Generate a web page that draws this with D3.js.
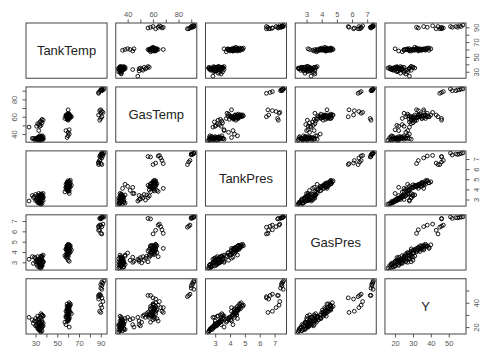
<!DOCTYPE html>
<html>
<head>
<meta charset="utf-8">
<script src="https://cdn.jsdelivr.net/npm/d3@7"></script>
<style>
  body { margin: 0; background: #fff; }
  svg { display: block; }
</style>
</head>
<body>
<script>
// sniffer-style data
const varNames = ['TankTemp', 'GasTemp', 'TankPres', 'GasPres', 'Y'];

const tankTemp = [
  33, 31, 33, 35, 36, 35, 34, 37, 32, 30, 29, 28, 34, 36, 35, 33, 32, 34, 36, 37, 35, 33, 31, 34, 35, 36, 34, 32, 37, 33,
  30, 36, 34, 27, 35,
  24, 33, 34, 35, 33, 32, 36, 34, 35, 37, 36, 31,
  59, 60, 61, 60, 58, 61,
  60, 59, 60, 61, 60, 59, 61, 60, 58, 60, 61, 59, 60, 62, 60, 59, 61, 60, 59, 60,
  61, 60, 58, 62, 60, 59, 61, 60, 57, 60, 61, 59, 60, 62, 60, 59, 61, 60, 63, 58,
  93, 91, 92, 90, 91, 90, 89, 88, 88, 91,
  90, 89, 91, 90, 92, 88, 90, 89, 91
];
const gasTemp = [
  35, 34, 36, 35, 34, 33, 34, 35, 36, 35, 34, 35, 37, 36, 37, 33, 34, 35, 38, 37, 34, 34, 35, 36, 35, 35, 33, 35, 34, 37,
  33, 36, 38, 35, 36,
  48, 44, 49, 50, 51, 52, 53, 54, 55, 56, 57, 49,
  36, 38, 40, 42, 44, 45,
  60, 60, 61, 59, 58, 62, 60, 59, 61, 62, 61, 58, 63, 60, 57, 59, 62, 60, 61, 64,
  58, 56, 60, 61, 59, 62, 60, 61, 58, 60, 63, 57, 62, 59, 68, 60, 61, 58, 60, 62,
  92, 92, 91, 91, 90, 90, 89, 88, 87, 92,
  68, 67, 66, 64, 65, 62, 58, 56, 60
];
const tankPres = [
  3.30, 3.10, 3.20, 2.80, 2.60, 2.55, 2.70, 2.90, 3.40, 3.50, 3.30, 3.20, 3.00, 3.10, 2.75, 2.65, 2.90, 3.35, 3.45, 3.25,
  3.05, 2.85, 3.00, 2.60, 3.55, 2.95, 3.15, 2.70, 3.60, 2.80,
  2.90, 3.20, 2.65, 3.40, 3.00,
  2.85, 3.60, 3.40, 3.05, 3.30, 3.15, 3.50, 2.95, 3.45, 3.20, 3.35, 3.00,
  4.10, 4.50, 4.30, 3.90, 4.20, 3.60,
  4.50, 4.40, 4.60, 4.30, 4.20, 4.70, 4.80, 4.10, 4.00, 4.35, 4.45, 4.55, 3.90, 4.65, 4.25, 4.15, 4.75, 4.05, 4.30, 3.80,
  4.50, 4.40, 4.20, 4.90, 4.60, 4.35, 4.10, 4.70, 3.75, 4.45, 4.55, 3.95, 4.85, 4.25, 4.10, 4.65, 3.85, 4.30, 4.40, 4.50,
  7.60, 7.55, 7.50, 7.45, 7.50, 7.40, 6.85, 6.70, 6.45, 7.58,
  6.55, 6.85, 7.10, 7.30, 7.35, 6.60, 7.20, 7.25, 6.45
];
const gasPres = [
  3.25, 2.80, 3.30, 2.65, 2.70, 2.45, 2.50, 3.10, 3.05, 3.40, 3.50, 2.90, 3.15, 2.85, 2.55, 2.75, 3.05, 3.10, 3.60, 3.00,
  2.70, 2.95, 3.20, 2.50, 3.30, 2.65, 3.35, 2.60, 3.70, 2.90,
  3.05, 2.90, 2.80, 3.55, 3.20,
  3.30, 3.00, 3.10, 3.45, 2.95, 3.55, 3.20, 3.40, 3.60, 3.05, 3.50, 3.25,
  3.40, 3.70, 3.90, 3.20, 3.50, 3.10,
  4.30, 4.45, 4.25, 4.35, 3.95, 4.60, 4.55, 4.10, 3.75, 4.40, 4.20, 4.60, 3.95, 4.35, 4.25, 3.90, 4.70, 3.80, 4.05, 3.55,
  4.55, 4.10, 4.30, 4.60, 4.65, 4.15, 4.15, 4.50, 3.65, 4.15, 4.60, 3.70, 4.75, 4.00, 4.35, 4.45, 3.90, 4.40, 4.20, 4.25,
  7.40, 7.38, 7.35, 7.30, 7.32, 7.25, 6.60, 6.50, 6.40, 7.39,
  5.80, 6.15, 6.45, 6.60, 6.70, 6.10, 7.20, 7.25, 5.75
];
const yVals = [
  24, 22, 23, 20, 17, 16, 18, 21, 26, 27, 25, 23, 22, 21, 19, 18, 20, 24, 25, 23, 22, 19, 21, 17, 28, 20, 22, 19, 29, 18,
  21, 24, 18, 26, 23,
  28, 27, 22, 21, 24, 29, 30, 28, 31, 29, 30, 25,
  25, 27, 28, 26, 22, 20,
  34, 33, 35, 32, 30, 37, 38, 29, 28, 33, 36, 35, 27, 39, 31, 30, 40, 26, 34, 25,
  37, 32, 29, 38, 36, 31, 33, 35, 24, 30, 34, 28, 37, 32, 36, 39, 27, 35, 31, 33,
  58, 57, 56, 55, 54, 52, 47, 46, 45, 51,
  32, 33, 36, 38, 41, 43, 46, 46, 44
];

// axis ticks, and which of them R printed a label for
const tickValues = [[30, 40, 50, 60, 70, 80, 90], [40, 50, 60, 70, 80, 90], [3, 4, 5, 6, 7], [3, 4, 5, 6, 7], [20, 30, 40, 50]];
const hLabels = [[30, 50, 70, 90], [40, 60, 80], [3, 4, 5, 6, 7], [3, 4, 5, 6, 7], [20, 30, 40, 50]];
const vLabels = [[30, 50, 70, 90], [40, 60, 80], [3, 4, 5, 6, 7], [3, 4, 5, 6, 7], [20, 40]];

const columns = [tankTemp, gasTemp, tankPres, gasPres, yVals];

const width = 481;
const height = 350;
const plotLeft = 26;
const plotRight = 466;
const plotTop = 23;
const plotBottom = 334;
const gap = 8.7;
const n = varNames.length;
const pw = (plotRight - plotLeft - gap * (n - 1)) / n;
const ph = (plotBottom - plotTop - gap * (n - 1)) / n;
const font = '"Liberation Sans", Arial, Helvetica, sans-serif';

const svg = d3.select('body')
  .append('svg')
  .attr('width', width)
  .attr('height', height);

// R pads each range by 4% on both sides
const domains = columns.map((v) => {
  const [lo, hi] = d3.extent(v);
  const pad = (hi - lo) * 0.04;
  return [lo - pad, hi + pad];
});
const xs = domains.map((d, j) => d3.scaleLinear(d, [plotLeft + j * (pw + gap), plotLeft + j * (pw + gap) + pw]));
const ys = domains.map((d, i) => d3.scaleLinear(d, [plotTop + i * (ph + gap) + ph, plotTop + i * (ph + gap)]));

for (let i = 0; i < n; i++) {
  for (let j = 0; j < n; j++) {
    const x0 = plotLeft + j * (pw + gap);
    const y0 = plotTop + i * (ph + gap);
    if (i === j) {
      svg.append('text')
        .attr('x', x0 + pw / 2)
        .attr('y', y0 + ph / 2)
        .attr('text-anchor', 'middle')
        .attr('dominant-baseline', 'central')
        .style('font-family', font)
        .style('font-size', '13px')
        .style('fill', '#222')
        .text(varNames[i]);
    } else {
      svg.append('g')
        .selectAll('circle')
        .data(d3.range(columns[0].length))
        .join('circle')
        .attr('cx', (k) => xs[j](columns[j][k]))
        .attr('cy', (k) => ys[i](columns[i][k]))
        .attr('r', 1.9)
        .attr('fill', 'none')
        .attr('stroke', '#000')
        .attr('stroke-width', 0.9);
    }
    svg.append('rect')
      .attr('x', x0)
      .attr('y', y0)
      .attr('width', pw)
      .attr('height', ph)
      .attr('fill', 'none')
      .attr('stroke', '#444')
      .attr('stroke-width', 1);
  }
}

const styleAxis = (g) => {
  g.select('.domain').remove();
  g.selectAll('.tick line').attr('stroke', '#555');
  g.selectAll('text')
    .style('font-family', font)
    .style('font-size', '7.5px')
    .attr('fill', '#555');
};

// columns: odd ones (1-based) get a bottom axis, even ones a top axis
for (let j = 0; j < n; j++) {
  const fmt = (d) => (hLabels[j].includes(d) ? d : '');
  if (j % 2 === 0) {
    svg.append('g')
      .attr('transform', `translate(0,${plotBottom})`)
      .call(d3.axisBottom(xs[j]).tickValues(tickValues[j]).tickSize(3.5).tickPadding(3).tickFormat(fmt))
      .call(styleAxis);
  } else {
    svg.append('g')
      .attr('transform', `translate(0,${plotTop})`)
      .call(d3.axisTop(xs[j]).tickValues(tickValues[j]).tickSize(3.5).tickPadding(3).tickFormat(fmt))
      .call(styleAxis);
  }
}

// rows: odd ones get a right axis, even ones a left axis; labels run upward
for (let i = 0; i < n; i++) {
  const fmt = (d) => (vLabels[i].includes(d) ? d : '');
  const left = i % 2 === 1;
  const g = svg.append('g')
    .attr('transform', `translate(${left ? plotLeft : plotRight},0)`)
    .call((left ? d3.axisLeft(ys[i]) : d3.axisRight(ys[i])).tickValues(tickValues[i]).tickSize(3.5).tickFormat(fmt))
    .call(styleAxis);
  g.selectAll('text')
    .attr('x', null)
    .attr('dy', null)
    .attr('text-anchor', 'middle')
    .attr('dominant-baseline', 'central')
    .attr('transform', `translate(${left ? -12 : 10},0) rotate(-90)`);
}
</script>
</body>
</html>
